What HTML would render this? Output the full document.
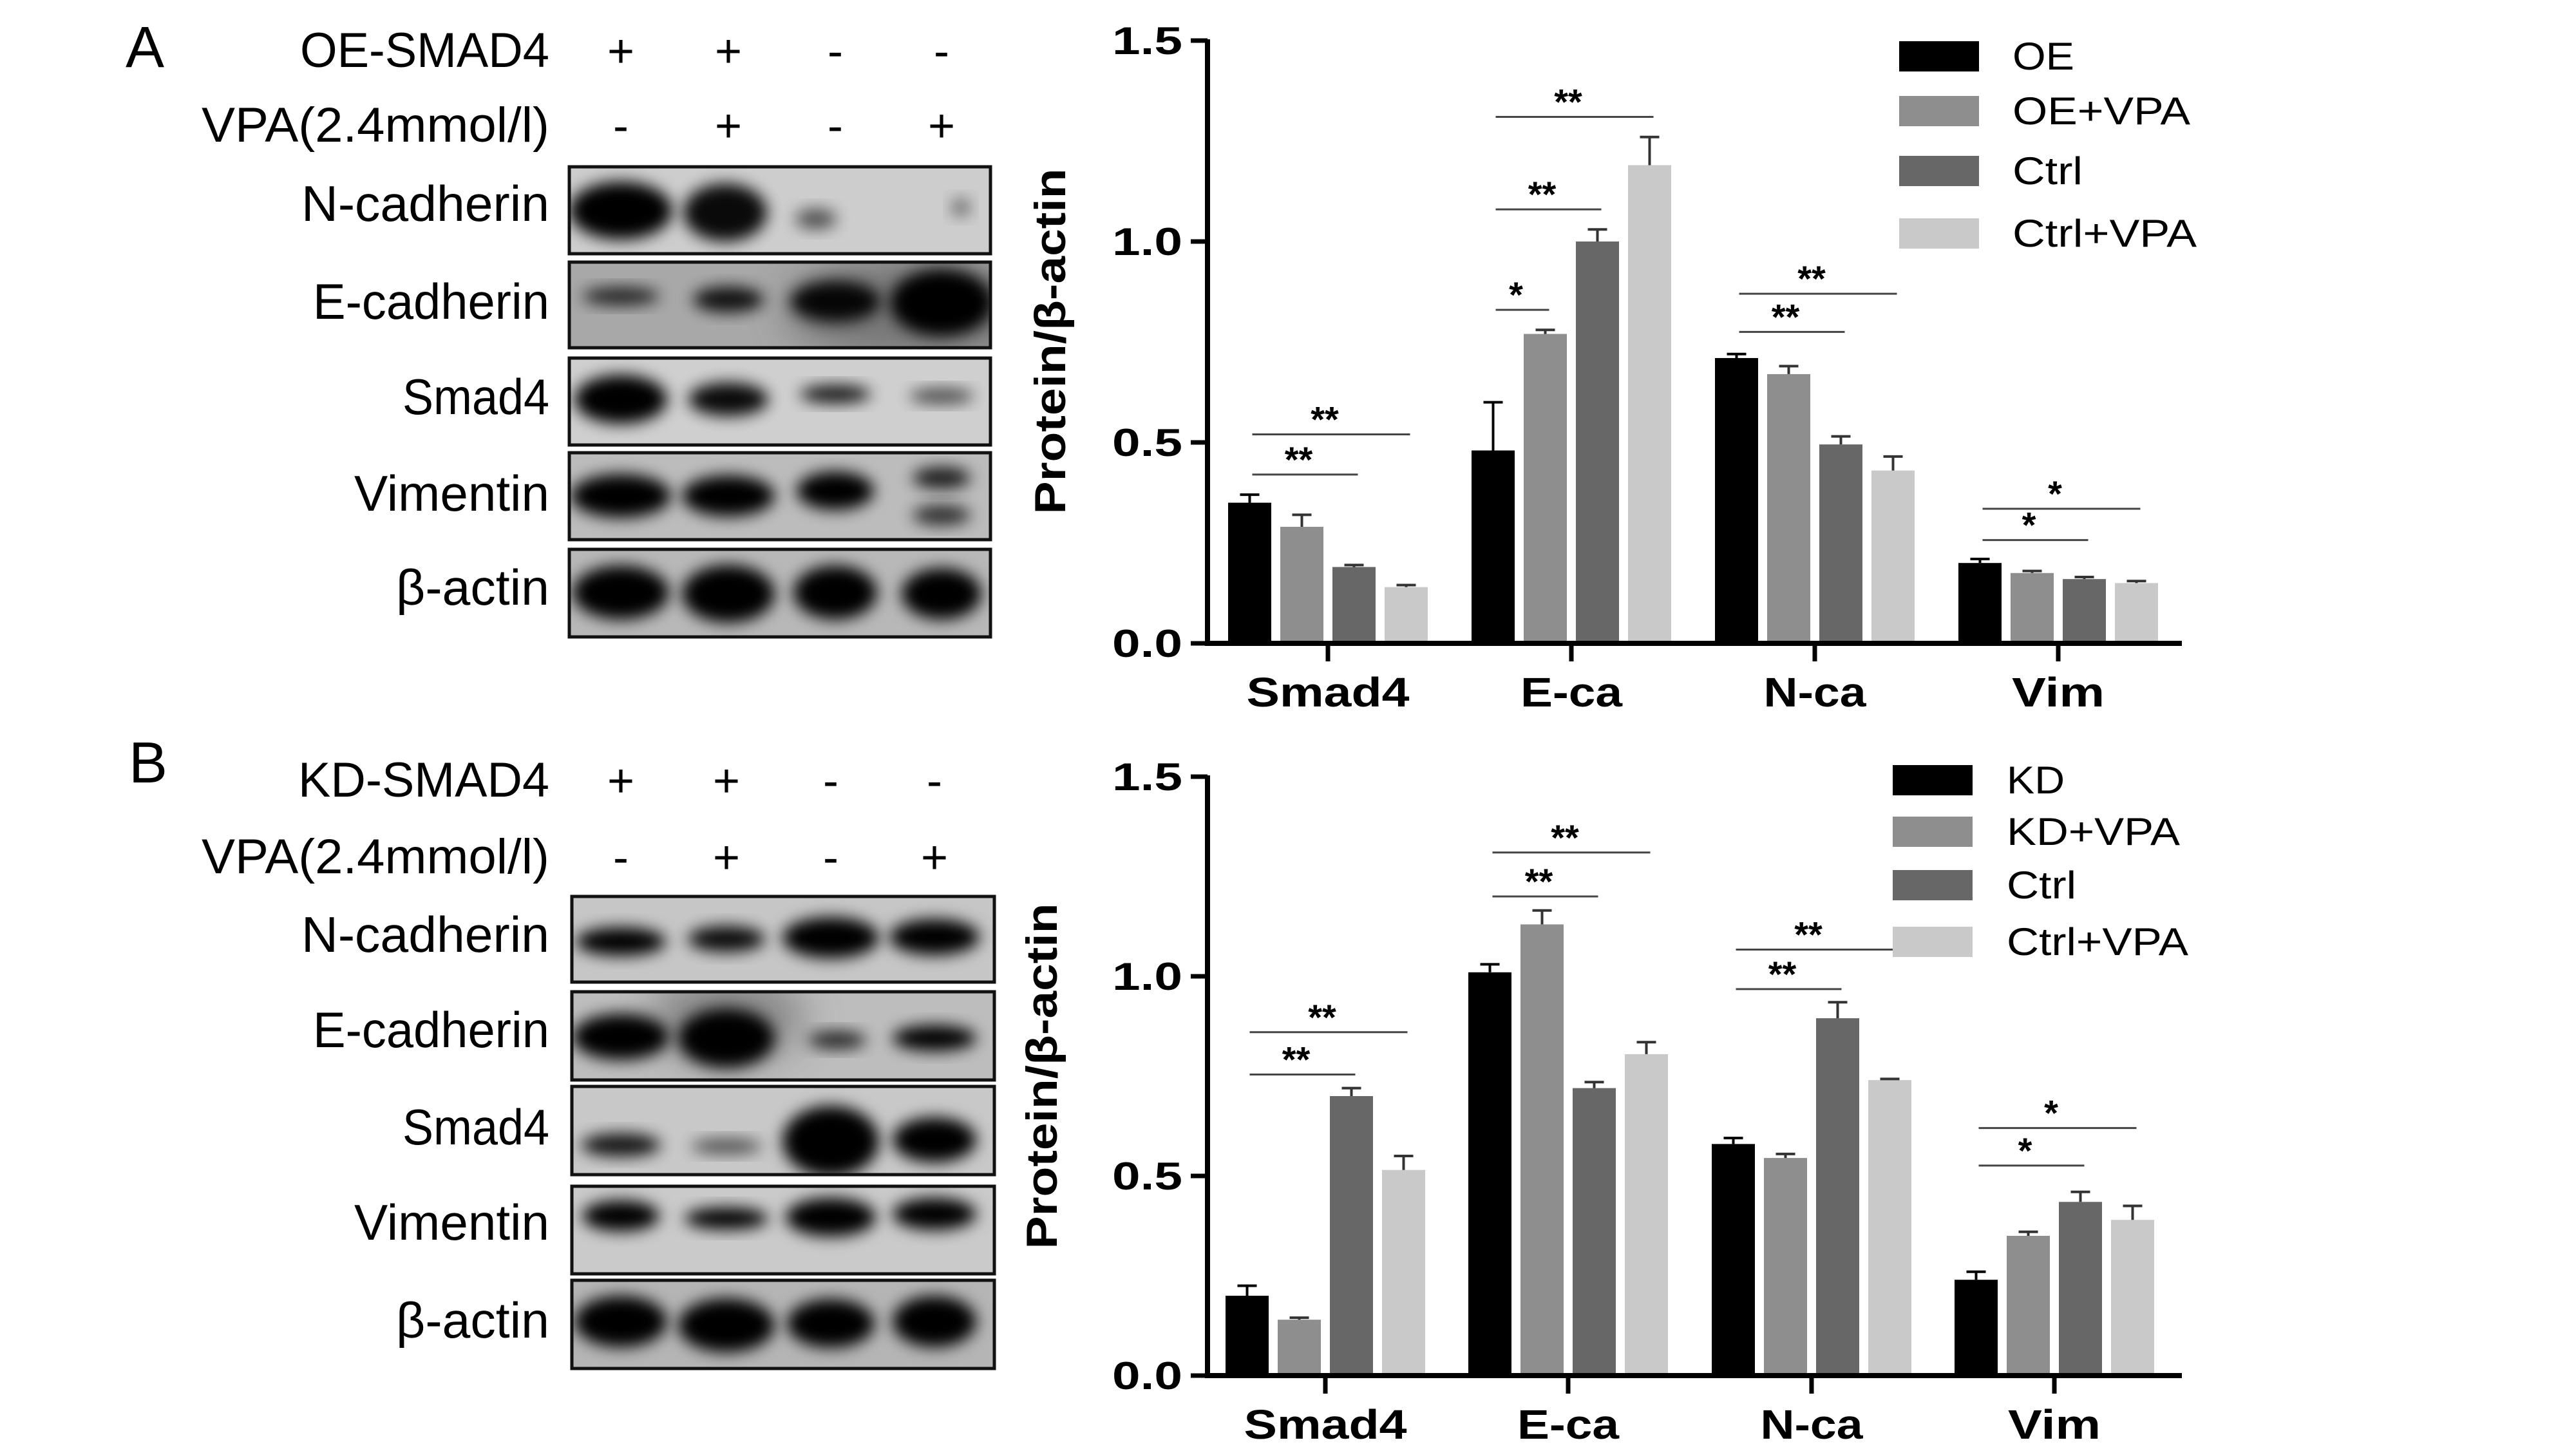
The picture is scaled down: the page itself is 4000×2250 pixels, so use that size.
<!DOCTYPE html>
<html><head><meta charset="utf-8"><style>
html,body{margin:0;padding:0;background:#fff;}
svg{display:block;}
text{font-family:"Liberation Sans",Arial,sans-serif;}
.cn{font-family:"Liberation Sans","Noto Sans CJK SC",sans-serif;}
</style></head><body>
<svg id="fig" xmlns="http://www.w3.org/2000/svg" width="4000" height="2250" viewBox="0 0 4000 2250">
<defs><filter id="blur" x="-50%" y="-50%" width="200%" height="200%"><feGaussianBlur stdDeviation="12"/></filter>
<filter id="blur2" x="-50%" y="-50%" width="200%" height="200%"><feGaussianBlur stdDeviation="30"/></filter></defs>
<rect width="4000" height="2250" fill="#fff"/>
</svg>
<script>
// ---------- chart data ----------
const categories = ['Smad4','E-ca','N-ca','Vim'];
const categoryWidths = [253,158,159,144];
const tickValues = [0,0.5,1.0,1.5];
const tickLabels = ['0.0','0.5','1.0','1.5'];
const seriesNamesA = ['OE','OE+VPA','Ctrl','Ctrl+VPA'];
const seriesNamesB = ['KD','KD+VPA','Ctrl','Ctrl+VPA'];
const seriesColors = ['#000000','#8e8e8e','#676767','#c9c9c9'];
// panel A values (per series, over categories)
const oeValues      = [0.35,0.48,0.71,0.20];
const oeVpaValues   = [0.29,0.77,0.67,0.175];
const ctrlAValues   = [0.19,1.00,0.495,0.16];
const ctrlVpaAValues= [0.14,1.19,0.43,0.15];
const oeErr      = [0.02,0.12,0.01,0.01];
const oeVpaErr   = [0.03,0.01,0.02,0.005];
const ctrlAErr   = [0.005,0.03,0.02,0.005];
const ctrlVpaAErr= [0.005,0.07,0.035,0.005];
// panel B values
const kdValues      = [0.20,1.01,0.58,0.24];
const kdVpaValues   = [0.14,1.13,0.545,0.35];
const ctrlBValues   = [0.70,0.72,0.895,0.435];
const ctrlVpaBValues= [0.515,0.805,0.74,0.39];
const kdErr      = [0.025,0.02,0.015,0.02];
const kdVpaErr   = [0.005,0.035,0.01,0.01];
const ctrlBErr   = [0.02,0.015,0.04,0.025];
const ctrlVpaBErr= [0.035,0.03,0.003,0.035];
// significance brackets: [category, fromSeries, toSeries, level, label]
const sigA = [[0,0,2,0.42,'**'],[0,0,3,0.52,'**'],[1,0,1,0.83,'*'],[1,0,2,1.08,'**'],[1,0,3,1.31,'**'],[2,0,2,0.775,'**'],[2,0,3,0.87,'**'],[3,0,2,0.257,'*'],[3,0,3,0.335,'*']];
const sigB = [[0,0,2,0.754,'**'],[0,0,3,0.86,'**'],[1,0,2,1.20,'**'],[1,0,3,1.31,'**'],[2,0,2,0.968,'**'],[2,0,3,1.067,'**'],[3,0,2,0.526,'*'],[3,0,3,0.62,'*']];

const NS='http://www.w3.org/2000/svg';
const svg=document.getElementById('fig');
function mk(tag,attrs,parent,txt){const e=document.createElementNS(NS,tag);for(const k in attrs)e.setAttribute(k,attrs[k]);if(txt!==undefined)e.textContent=txt;(parent||svg).appendChild(e);return e;}

function drawChart(cfg){
  const g=mk('g',{});
  
  
  const y=v=>cfg.y0-(cfg.y0-cfg.y15)*v/1.5;
  const bx=(c,s)=>cfg.tickX[c]+(s-1.5)*81;
  cfg.values.forEach((vals,s)=>{
    vals.forEach((v,c)=>{
      const r=mk('rect',{x:bx(c,s)-33.5,y:y(v),width:67,height:cfg.y0-y(v),fill:seriesColors[s]},g);
      
      
      const e=cfg.errs[s][c];
      const top=y(v+e);
      const l=mk('path',{d:`M${bx(c,s)} ${y(v)} V${top} M${bx(c,s)-15} ${top} H${bx(c,s)+15}`,stroke:s===0?'#000':'#333',"stroke-width":4,fill:'none'},g);
      
      
    });
  });
  const ax=mk('path',{d:`M${cfg.axisX} ${cfg.y15-2} V${cfg.y0} H3388`,stroke:'#000','stroke-width':8,fill:'none'},g);
  
  
  tickValues.forEach((t,i)=>{
    mk('line',{x1:cfg.axisX-26,x2:cfg.axisX,y1:y(t),y2:y(t),stroke:'#000','stroke-width':7},g);
    const tl=mk('text',{x:1836,y:y(t)+21,'text-anchor':'end','font-size':60,'font-weight':'bold',textLength:109,lengthAdjust:'spacingAndGlyphs'},g,tickLabels[i]);
    
    
  });
  categories.forEach((c,i)=>{
    mk('line',{x1:cfg.tickX[i],x2:cfg.tickX[i],y1:cfg.y0,y2:cfg.y0+28,stroke:'#000','stroke-width':7},g);
    const cl=mk('text',{x:cfg.tickX[i]-categoryWidths[i]/2,y:cfg.catY,'font-size':64,'font-weight':'bold',textLength:categoryWidths[i],lengthAdjust:'spacingAndGlyphs'},g,c);
    
    
  });
  const yt=mk('text',{x:cfg.titleX,y:cfg.titleY+23,'text-anchor':'middle','font-size':68,'font-weight':'bold',textLength:537,lengthAdjust:'spacingAndGlyphs',transform:`rotate(-90 ${cfg.titleX} ${cfg.titleY})`},g,'Protein/β-actin');
  
  
  cfg.sig.forEach(sg=>{
    const [c,a,b,lv,lab]=sg;
    const x1=bx(c,a)+4,x2=bx(c,b)+6,yy=y(lv);
    const sl=mk('line',{x1:x1,x2:x2,y1:yy,y2:yy,stroke:'#444','stroke-width':3},g);
    
    
    const st=mk('text',{x:(x1+x2)/2-10,y:yy-4,'text-anchor':'middle','font-size':56,'font-weight':'bold'},g,lab);
    
    
  });
  cfg.series.forEach((s,i)=>{
    const r=cfg.legRows[i];
    const lg=mk('g',{},g);
    
    
    mk('rect',{x:cfg.legX,y:r,width:124,height:47,fill:seriesColors[i]},lg);
    mk('text',{x:cfg.legTextX,y:r+44,'font-size':60,textLength:cfg.legW[i],lengthAdjust:'spacingAndGlyphs'},lg,s);
  });
}

drawChart({name:'chart-a',y0:999,y15:63,axisX:1875,tickX:[2062,2440,2818,3196],catY:1097,titleX:1631,titleY:530,
  values:[oeValues,oeVpaValues,ctrlAValues,ctrlVpaAValues],errs:[oeErr,oeVpaErr,ctrlAErr,ctrlVpaAErr],
  series:seriesNamesA,sig:sigA,legX:2949,legTextX:3125,legRows:[64,149,242,339],legW:[96,276,109,286]});
drawChart({name:'chart-b',y0:2136,y15:1206,axisX:1875,tickX:[2058,2435,2813,3190],catY:2234,titleX:1618,titleY:1671,
  values:[kdValues,kdVpaValues,ctrlBValues,ctrlVpaBValues],errs:[kdErr,kdVpaErr,ctrlBErr,ctrlVpaBErr],
  series:seriesNamesB,sig:sigB,legX:2939,legTextX:3116,legRows:[1188,1268,1351,1439],legW:[90,269,108,282]});

// ---------- western blots ----------
const rowNames=['N-cadherin','E-cadherin','Smad4','Vimentin','β-actin'];
const rowW=[385,367,228,303,238];
function drawBlot(p){
  const g=mk('g',{});
  
  
  const pl=mk('text',{x:p.letterX,y:p.letterY,'font-size':90,class:'cn'},g,p.id.toUpperCase());
  
  
  const h1=mk('text',{x:853-p.hw,y:p.h1y,'font-size':76,class:'cn',textLength:p.hw,lengthAdjust:'spacingAndGlyphs'},g,p.header);
  
  
  const h2=mk('text',{x:313,y:p.h2y,'font-size':76,class:'cn',textLength:540,lengthAdjust:'spacingAndGlyphs'},g,'VPA(2.4mmol/l)');
  
  
  p.signs1.forEach((s,i)=>mk('text',{x:p.lanes[i],y:p.h1y,'text-anchor':'middle','font-size':72,class:'cn'},g,s));
  p.signs2.forEach((s,i)=>mk('text',{x:p.lanes[i],y:p.h2y,'text-anchor':'middle','font-size':72,class:'cn'},g,s));
  p.rows.forEach((r,ri)=>{
    const [top,bot,bg,bands]=r;
    const rg=mk('g',{},g);
    
    
    mk('text',{x:853-rowW[ri],y:p.labY[ri],'font-size':78,class:'cn',textLength:rowW[ri],lengthAdjust:'spacingAndGlyphs'},rg,rowNames[ri]);
    const cp='cp'+p.id+ri;
    const cl=mk('clipPath',{id:cp},rg);mk('rect',{x:p.x0,y:top,width:p.x1-p.x0,height:bot-top},cl);
    const inner=mk('g',{'clip-path':`url(#${cp})`},rg);
    mk('rect',{x:p.x0,y:top,width:p.x1-p.x0,height:bot-top,fill:bg},inner);
    if(r[4]) mk('ellipse',{cx:r[4][0],cy:r[4][1],rx:r[4][2],ry:r[4][3],fill:'#555',opacity:r[4][4],filter:'url(#blur2)'},inner);
    bands.forEach(b=>mk('ellipse',{cx:p.lanes[b[0]]+(b[5]||0),cy:b[1],rx:b[2],ry:b[3],fill:'#050505',opacity:b[4],filter:'url(#blur)'},inner));
    mk('rect',{x:p.x0,y:top,width:p.x1-p.x0,height:bot-top,fill:'none',stroke:'#111','stroke-width':5},rg);
  });
}
drawBlot({id:'a',letterX:195,letterY:104,header:'OE-SMAD4',hw:387,h1y:104,h2y:220,
  signs1:['+','+','-','-'],signs2:['-','+','-','+'],lanes:[964,1131,1297,1462],x0:884,x1:1538,
  labY:[343,495,643,793,939],
  rows:[[259,394,'#cdcdcd',[[0,327,80,45,1],[1,330,65,45,.95,-5],[2,340,32,16,.6,-30],[3,322,14,14,.5,30]]],
        [407,540,'#a8a8a8',[[0,460,60,14,.8],[1,465,55,20,.9],[2,468,70,32,.95],[3,470,80,52,1]],[1420,480,200,80,.6]],
        [556,691,'#cfcfcf',[[0,620,72,38,1],[1,620,62,26,.95],[2,612,55,14,.9],[3,615,50,12,.65]]],
        [703,838,'#bcbcbc',[[0,770,78,34,1],[1,770,72,32,1],[2,762,60,30,1],[3,742,45,17,.85],[3,800,45,16,.75]]],
        [853,989,'#b8b8b8',[[0,920,75,42,1],[1,922,72,45,1],[2,920,65,42,1],[3,922,62,40,1]]]]});
drawBlot({id:'b',letterX:200,letterY:1215,header:'KD-SMAD4',hw:390,h1y:1237,h2y:1356,
  signs1:['+','+','-','-'],signs2:['-','+','-','+'],lanes:[964,1128,1290,1451],x0:888,x1:1544,
  labY:[1478,1626,1777,1925,2077],
  rows:[[1392,1525,'#c6c6c6',[[0,1462,70,22,1],[1,1458,60,20,.95],[2,1456,75,32,1],[3,1455,70,28,1]]],
        [1540,1677,'#bdbdbd',[[0,1610,75,36,1],[1,1612,75,46,1],[2,1615,45,14,.8,10],[3,1612,65,20,1]],[1130,1580,120,70,.5]],
        [1687,1824,'#c8c8c8',[[0,1778,62,18,.9],[1,1780,55,12,.6],[2,1772,75,55,1],[3,1770,65,35,1]]],
        [1842,1978,'#cacaca',[[0,1888,60,24,1],[1,1892,65,17,1],[2,1890,70,30,1],[3,1885,65,25,1]]],
        [1988,2125,'#b5b5b5',[[0,2052,72,40,1],[1,2058,75,42,1],[2,2055,68,38,1],[3,2052,65,40,1]]]]});
</script>
</body></html>
